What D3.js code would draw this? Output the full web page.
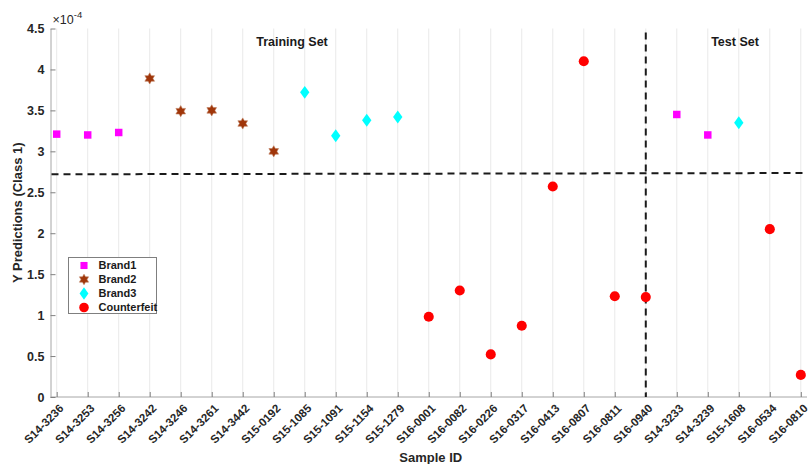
<!DOCTYPE html>
<html>
<head>
<meta charset="utf-8">
<script src="https://cdn.jsdelivr.net/npm/d3@7"></script>
<style>
  html, body { margin: 0; padding: 0; background: #fff; }
  svg { display: block; font-family: "Liberation Sans", Arial, Helvetica, sans-serif; }
</style>
</head>
<body>
<svg id="chart" width="810" height="464"></svg>
<script>
// Sample IDs along the x axis (training samples first, then the test samples)
const sampleIds = [
  "S14-3236", "S14-3253", "S14-3256", "S14-3242", "S14-3246", "S14-3261", "S14-3442",
  "S15-0192", "S15-1085", "S15-1091", "S15-1154", "S15-1279",
  "S16-0001", "S16-0082", "S16-0226", "S16-0317", "S16-0413", "S16-0807", "S16-0811", "S16-0940",
  "S14-3233", "S14-3239", "S15-1608", "S16-0534", "S16-0810"
];

// Predicted Y (class 1), in units of 1e-4, one list per group
const brand1Ids = ["S14-3236", "S14-3253", "S14-3256", "S14-3233", "S14-3239"];
const brand1Vals = [3.21, 3.20, 3.23, 3.45, 3.20];

const brand2Ids = ["S14-3242", "S14-3246", "S14-3261", "S14-3442", "S15-0192"];
const brand2Vals = [3.89, 3.49, 3.50, 3.34, 3.00];

const brand3Ids = ["S15-1085", "S15-1091", "S15-1154", "S15-1279", "S15-1608"];
const brand3Vals = [3.72, 3.19, 3.38, 3.42, 3.35];

const counterfeitIds = ["S16-0001", "S16-0082", "S16-0226", "S16-0317", "S16-0413", "S16-0807",
                        "S16-0811", "S16-0940", "S16-0534", "S16-0810"];
const counterfeitVals = [0.98, 1.30, 0.52, 0.87, 2.57, 4.10, 1.23, 1.22, 2.05, 0.27];

const yTicks = [0, 0.5, 1, 1.5, 2, 2.5, 3, 3.5, 4, 4.5];
const thresholdStart = 2.72;   // class threshold at the left edge
const thresholdEnd = 2.735;    // class threshold at the right edge
const splitId = "S16-0940";    // last training sample / train-test boundary

const svg = d3.select("#chart");
const margin = { left: 50.5, right: 3, top: 28.5, bottom: 67 };
const W = 810, H = 464;

const x = d3.scalePoint()
  .domain(sampleIds)
  .range([margin.left, W - margin.right])
  .padding(0.2);

const y = d3.scaleLinear()
  .domain([0, 4.5])
  .range([H - margin.bottom, margin.top]);

const x0 = margin.left, x1 = W - margin.right;
const yBottom = y(0), yTop = y(4.5);

// vertical grid lines at each sample
svg.append("g")
  .selectAll("line")
  .data(sampleIds)
  .join("line")
  .attr("x1", d => x(d)).attr("x2", d => x(d))
  .attr("y1", yTop).attr("y2", yBottom)
  .attr("stroke", "#e9e9e9")
  .attr("stroke-width", 1);

// x axis with inward ticks and rotated labels
const xAxis = svg.append("g")
  .attr("transform", `translate(0,${yBottom})`)
  .call(d3.axisBottom(x).tickSizeInner(-5).tickSizeOuter(0).tickPadding(0));
xAxis.select(".domain").attr("stroke", "#a6a6a6").attr("d", `M${x0},0H${x1}`);
xAxis.selectAll(".tick line").attr("stroke", "#808080");
xAxis.selectAll(".tick text")
  .attr("font-size", 11.5)
  .attr("font-weight", "bold")
  .attr("fill", "#262626")
  .attr("text-anchor", "end")
  .attr("dy", "0.75em")
  .attr("y", 0)
  .attr("transform", "translate(1,6) rotate(-45)");

// y axis with inward ticks
const yAxis = svg.append("g")
  .attr("transform", `translate(${x0},0)`)
  .call(d3.axisLeft(y).tickValues(yTicks).tickSizeInner(-5).tickSizeOuter(0).tickPadding(6)
    .tickFormat(d3.format("~g")));
yAxis.select(".domain").attr("stroke", "#a6a6a6");
yAxis.selectAll(".tick line").attr("stroke", "#808080");
yAxis.selectAll(".tick text")
  .attr("font-size", 12.5)
  .attr("font-weight", "bold")
  .attr("fill", "#262626");

// exponent label above the y axis
const expo = svg.append("text")
  .attr("x", x0 + 2).attr("y", 24)
  .attr("font-size", 12.5)
  .attr("fill", "#262626");
expo.append("tspan").text("\u00d710");
expo.append("tspan").attr("font-size", 9.5).attr("dy", -6).text("-4");

// axis titles
svg.append("text")
  .attr("x", (x0 + x1) / 2 + 2).attr("y", 462)
  .attr("text-anchor", "middle")
  .attr("font-size", 13)
  .attr("font-weight", "bold")
  .attr("fill", "#262626")
  .text("Sample ID");

svg.append("text")
  .attr("transform", `translate(22,${(yTop + yBottom) / 2}) rotate(-90)`)
  .attr("text-anchor", "middle")
  .attr("font-size", 13)
  .attr("font-weight", "bold")
  .attr("fill", "#262626")
  .text("Y Predictions (Class 1)");

// threshold and split lines
svg.append("line")
  .attr("x1", x0 + 1).attr("x2", x1)
  .attr("y1", y(thresholdStart)).attr("y2", y(thresholdEnd))
  .attr("stroke", "#1a1a1a").attr("stroke-width", 2)
  .attr("stroke-dasharray", "7,5");

svg.append("line")
  .attr("x1", x(splitId)).attr("x2", x(splitId))
  .attr("y1", y(4.45)).attr("y2", yBottom)
  .attr("stroke", "#1a1a1a").attr("stroke-width", 2)
  .attr("stroke-dasharray", "7,5");

// region labels
svg.append("text")
  .attr("x", 292).attr("y", 46)
  .attr("text-anchor", "middle")
  .attr("font-size", 12.5).attr("font-weight", "bold").attr("fill", "#1a1a1a")
  .text("Training Set");
svg.append("text")
  .attr("x", 735).attr("y", 46)
  .attr("text-anchor", "middle")
  .attr("font-size", 12.5).attr("font-weight", "bold").attr("fill", "#1a1a1a")
  .text("Test Set");

// six-pointed star symbol
const hexagram = {
  draw(ctx, size) {
    const r = Math.sqrt(size / 1.6);
    const ri = r * 0.577;
    for (let i = 0; i < 12; i++) {
      const a = -Math.PI / 2 + i * Math.PI / 6;
      const rr = i % 2 === 0 ? r : ri;
      const px = rr * Math.cos(a), py = rr * Math.sin(a);
      if (i === 0) ctx.moveTo(px, py); else ctx.lineTo(px, py);
    }
    ctx.closePath();
  }
};

// tall diamond symbol
const tallDiamond = {
  draw(ctx, size) {
    const h = Math.sqrt(size) * 0.75;
    const w = h * 0.72;
    ctx.moveTo(0, -h);
    ctx.lineTo(w, 0);
    ctx.lineTo(0, h);
    ctx.lineTo(-w, 0);
    ctx.closePath();
  }
};

const groups = [
  { name: "Brand1", ids: brand1Ids, vals: brand1Vals, type: d3.symbolSquare, size: 56, fill: "#ff00ff", stroke: "none" },
  { name: "Brand2", ids: brand2Ids, vals: brand2Vals, type: hexagram, size: 50, fill: "#a0360a", stroke: "#c08060" },
  { name: "Brand3", ids: brand3Ids, vals: brand3Vals, type: tallDiamond, size: 75, fill: "#00ffff", stroke: "none" },
  { name: "Counterfeit", ids: counterfeitIds, vals: counterfeitVals, type: d3.symbolCircle, size: 80, fill: "#ff0000", stroke: "none" }
];

groups.forEach(g => {
  const sym = d3.symbol().type(g.type).size(g.size);
  svg.append("g")
    .selectAll("path")
    .data(g.ids.map((id, i) => ({ id, v: g.vals[i] })))
    .join("path")
    .attr("transform", d => `translate(${x(d.id)},${y(d.v)})`)
    .attr("d", sym())
    .attr("fill", g.fill)
    .attr("stroke", g.stroke)
    .attr("stroke-width", 0.6);
});

// legend
const legend = svg.append("g").attr("transform", "translate(68.5,257.5)");
legend.append("rect")
  .attr("width", 88).attr("height", 56)
  .attr("fill", "#fff").attr("stroke", "#7f7f7f").attr("stroke-width", 1);
groups.forEach((g, i) => {
  const row = legend.append("g").attr("transform", `translate(0,${8 + i * 14})`);
  row.append("path")
    .attr("transform", "translate(15.5,0)")
    .attr("d", d3.symbol().type(g.type).size(g.size * 0.9)())
    .attr("fill", g.fill)
    .attr("stroke", g.stroke)
    .attr("stroke-width", 0.6);
  row.append("text")
    .attr("x", 30).attr("y", 0).attr("dy", "0.35em")
    .attr("font-size", 11).attr("font-weight", "bold").attr("fill", "#1a1a1a")
    .text(g.name);
});
</script>
</body>
</html>
